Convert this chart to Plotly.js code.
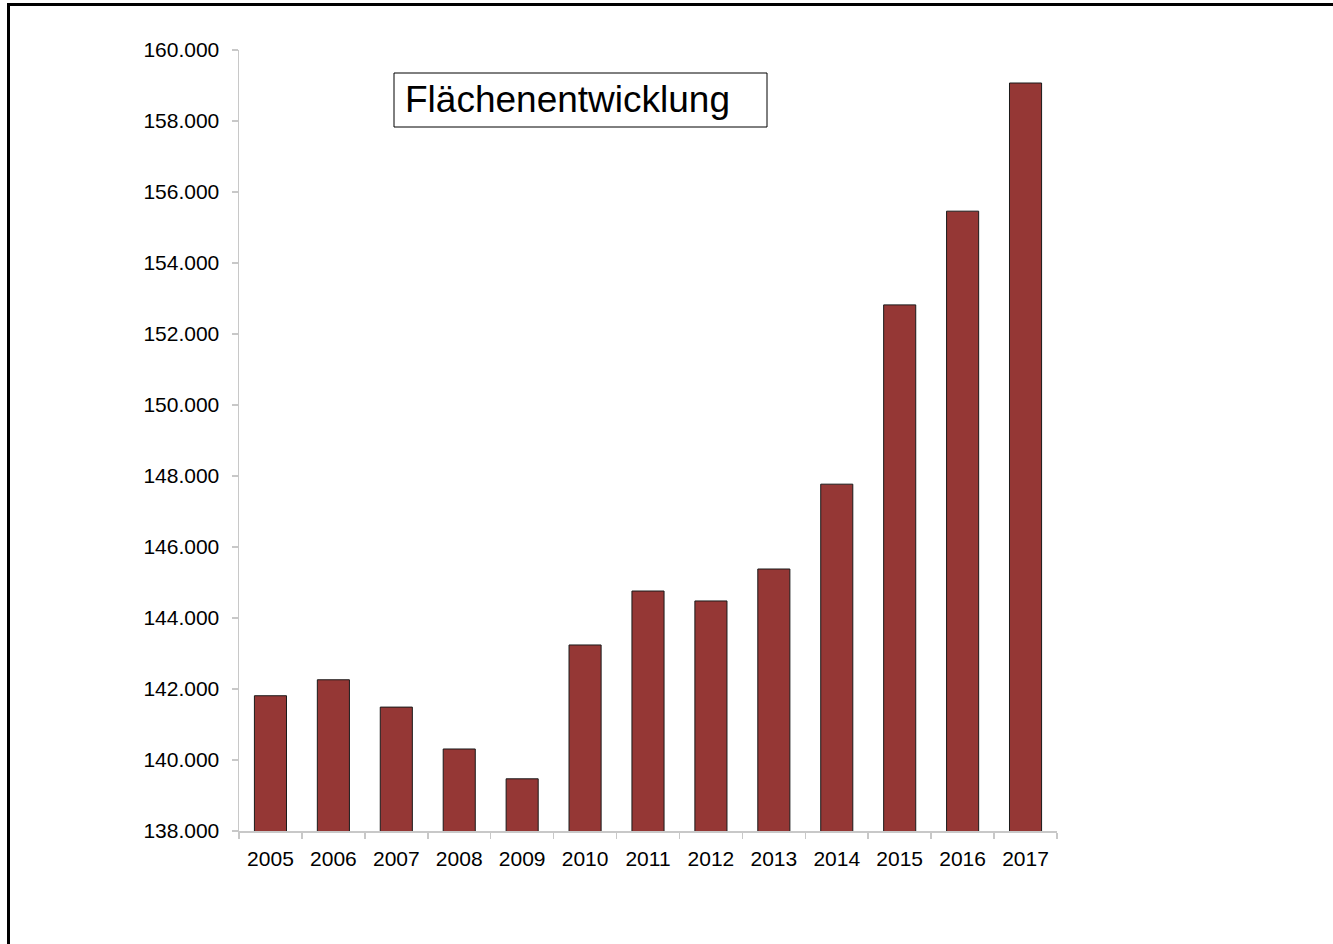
<!DOCTYPE html>
<html>
<head>
<meta charset="utf-8">
<script src="https://cdn.plot.ly/plotly-3.0.1.min.js"></script>
<style>
  html, body { margin: 0; padding: 0; background: #fff; overflow: hidden; }
  #chart { width: 1333px; height: 944px; }
  #frame { position: absolute; left: 7px; top: 3px; width: 1400px; height: 1000px;
           border: 3px solid #000; pointer-events: none; }
</style>
</head>
<body>
<div id="chart"></div>
<div id="frame"></div>
<script>
const years = ["2005","2006","2007","2008","2009","2010","2011","2012","2013","2014","2015","2016","2017"];
const area = [141810, 142260, 141490, 140310, 139470, 143240, 144760, 144480, 145380, 147770, 152820, 155460, 159070];
const titleText = "Flächenentwicklung";

const font = "Liberation Sans, Arial, sans-serif";

const trace = {
  type: "bar",
  x: years,
  y: area,
  marker: { color: "#953735", line: { color: "#1a1a1a", width: 1 } },
  hoverinfo: "x+y"
};

// plot area in pixels: x 239..1057, y 50..831
const px = v => (v - 239) / 818;
const py = v => (831 - v) / 781;

const layout = {
  width: 1333,
  height: 944,
  margin: { l: 239, r: 276, t: 50, b: 113 },
  paper_bgcolor: "#ffffff",
  plot_bgcolor: "#ffffff",
  separators: ",.",
  bargap: 0.49,
  showlegend: false,
  font: { family: font, size: 21, color: "#000" },
  xaxis: {
    type: "category",
    showgrid: false,
    showline: true,
    linecolor: "#c8c8c8",
    linewidth: 1.5,
    ticks: "outside",
    tickson: "boundaries",
    ticklen: 6,
    tickcolor: "#c8c8c8",
    tickwidth: 1.5,
    ticklabelstandoff: 8,
    tickfont: { family: font, size: 21, color: "#000" },
    zeroline: false
  },
  yaxis: {
    range: [138000, 160000],
    dtick: 2000,
    tick0: 138000,
    tickformat: ",.0f",
    showgrid: false,
    showline: true,
    linecolor: "#c8c8c8",
    linewidth: 1.5,
    ticks: "outside",
    ticklen: 6,
    tickcolor: "#c8c8c8",
    tickwidth: 1.5,
    ticklabelstandoff: 8,
    tickfont: { family: font, size: 21, color: "#000" },
    zeroline: false
  },
  shapes: [{
    type: "rect",
    xref: "paper", yref: "paper",
    x0: px(394), x1: px(767), y0: py(127), y1: py(73),
    line: { color: "#000", width: 1 },
    fillcolor: "#fff"
  }],
  annotations: [{
    text: titleText,
    xref: "paper", yref: "paper",
    x: px(403), y: py(100),
    xanchor: "left", yanchor: "middle",
    showarrow: false,
    font: { family: font, size: 37, color: "#000" },
    align: "left"
  }]
};

Plotly.newPlot("chart", [trace], layout, { displayModeBar: false, staticPlot: true });
</script>
</body>
</html>
